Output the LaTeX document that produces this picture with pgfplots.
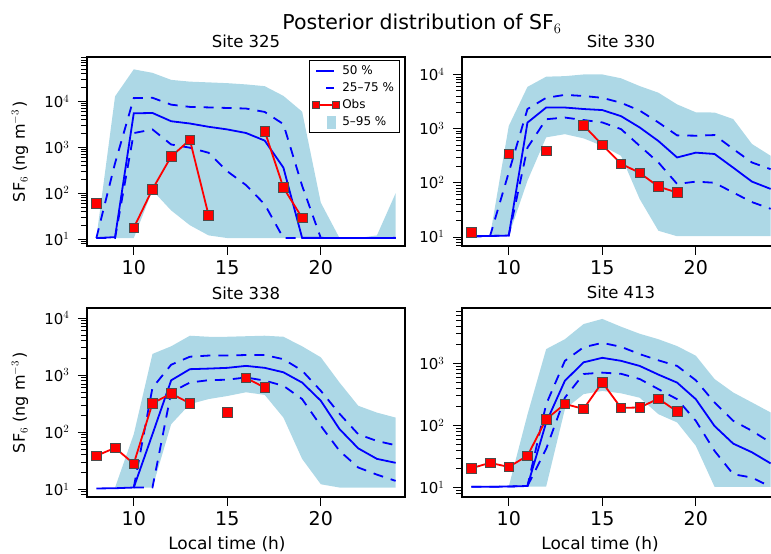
\documentclass[border=0pt]{standalone}
\usepackage{fontspec}
\setmainfont{DejaVu Sans}
\usepackage{pgfplots}
\pgfplotsset{compat=1.18}
\usepgfplotslibrary{groupplots}
\definecolor{lb}{HTML}{ADD8E6}
\definecolor{mblue}{rgb}{0,0,1}
\definecolor{mred}{rgb}{1,0,0}
\pgfplotsset{
 panel/.style={
  width=318pt, height=189pt, scale only axis,
  ymode=log, log basis y=10, xmin=7.5, xmax=24.5, xtick={10,15,20},
  /pgf/number format/assume math mode=true,
  tick align=outside, xtick pos=bottom, ytick pos=left,
  major tick length=9pt, minor tick length=6pt,
  every tick/.style={black, line width=0.8pt},
  axis line style={line width=1.6pt},
  xticklabel style={font=\fontsize{19}{19}\selectfont, yshift=-2pt},
  xticklabel={\pgfmathprintnumber{\tick}},
  yticklabel style={font=\fontsize{15}{15}\selectfont, xshift=-5pt},
  yticklabel={10$^{\pgfmathparse{int(round(\tick))}\pgfmathresult}$},
  title style={font=\fontsize{16.5}{16.5}\selectfont, at={(0.5,1)}, anchor=base, yshift=3pt},
  unbounded coords=jump,
 },
 ylab/.style={ylabel={SF$_6$\ (ng m$^{-3}$\,)}, ylabel style={font=\fontsize{16}{16}\selectfont, at={(axis description cs:-0.2107,0.5)}, anchor=center}},
 xlab/.style={xlabel={Local time (h)}, xlabel style={font=\fontsize{17}{17}\selectfont, at={(axis description cs:#1,0)}, anchor=base, yshift=-52pt}},
 band/.style={fill=lb, draw=none, forget plot},
 med/.style={mblue, line width=1.8pt, no markers, forget plot},
 quart/.style={mblue, line width=1.8pt, no markers, dash pattern=on 10pt off 8pt, forget plot},
 obs/.style={mred, line width=1.8pt, mark=square*, mark size=4.8pt, mark options={solid, fill=mred, draw=black!70, line width=0.7pt}, forget plot},
}
\begin{document}
\begin{tikzpicture}
\begin{groupplot}[group style={group size=2 by 2, horizontal sep=57pt, vertical sep=62pt}, panel]
% ---------------- Site 325
\nextgroupplot[title={Site 325}, ymin=7.05, ymax=93000, ylab,
  legend style={at={(1,1)}, anchor=north east, xshift=-5pt, yshift=-3pt, draw=black, line width=1.5pt,
    font=\fontsize{12}{12}\selectfont, row sep=0pt, nodes={inner sep=2.2pt, text height=9.5pt, text depth=3pt}},
  legend cell align=left]
\addplot[band] coordinates {(8,10.5)(9,12900)(10,50000)(11,42000)(12,29500)(13,27000)(14,26000)(15,25000)(16,23500)(17,21500)(18,13200)(19,6000)(20,62)(21,10.5)(22,10.5)(23,12)(24,100)
 (24,10.5)(23,10.5)(22,10.5)(21,10.5)(20,10.5)(19,10.5)(18,10.5)(17,10.5)(16,10.5)(15,10.5)(14,12)(13,20)(12,42)(11,115)(10,10.5)(9,10.5)(8,10.5)} -- cycle;
\addplot[quart] coordinates {(8,10.5)(9,450)(10,11800)(11,12000)(12,8500)(13,7600)(14,7400)(15,7200)(16,7000)(17,5900)(18,3200)(19,145)(20,10.5)(21,10.5)(22,10.5)(23,10.5)(24,10.5)};
\addplot[quart] coordinates {(8,10.5)(9,10.5)(10,2040)(11,2450)(12,1150)(13,980)(14,760)(15,300)(16,150)(17,57)(18,10.5)(19,10.5)(20,10.5)(21,10.5)(22,10.5)(23,10.5)(24,10.5)};
\addplot[med] coordinates {(8,10.5)(9,11)(10,5500)(11,5600)(12,3700)(13,3300)(14,2800)(15,2450)(16,2050)(17,1400)(18,360)(19,10.6)(20,10.6)(21,10.5)(22,10.5)(23,10.5)(24,10.6)};
\addplot[obs] coordinates {(8,60)(9,nan)(10,17.5)(11,122)(12,630)(13,1450)(14,33)(15,nan)(17,2250)(18,132)(19,29)};
\addlegendimage{legend image code/.code={\draw[mblue,line width=1.8pt] (0pt,0pt) -- (18pt,0pt);}}
\addlegendentry{50 \%}
\addlegendimage{legend image code/.code={\draw[mblue,line width=1.8pt] (10pt,0pt) -- (18pt,0pt);}}
\addlegendentry{25–75 \%}
\addlegendimage{legend image code/.code={\draw[mred,line width=1.8pt] (0pt,0pt) -- (20pt,0pt);
  \draw[fill=mred,draw=black!70,line width=0.6pt] (-3.5pt,-3.5pt) rectangle (3.5pt,3.5pt);
  \draw[fill=mred,draw=black!70,line width=0.6pt] (16.5pt,-3.5pt) rectangle (23.5pt,3.5pt);}}
\addlegendentry{Obs}
\addlegendimage{legend image code/.code={\fill[lb] (11pt,-6pt) rectangle (19pt,5pt);}}
\addlegendentry{5–95 \%}
% ---------------- Site 330
\nextgroupplot[title={Site 330}, ymin=6.8, ymax=21000]
\addplot[band] coordinates {(9,10.4)(10,1120)(11,5900)(12,9100)(13,9300)(14,10000)(15,10000)(16,8500)(17,6100)(18,4600)(19,2800)(20,2000)(21,1980)(22,1500)(23,520)(24,315)
 (24,10.3)(23,10.3)(22,10.3)(21,10.3)(20,10.3)(19,10.3)(18,13)(17,50)(16,315)(15,480)(14,660)(13,790)(12,690)(11,109)(10,10.6)(9,10.4)} -- cycle;
\addplot[quart] coordinates {(8,10.3)(9,10.4)(10,155)(11,2300)(12,3700)(13,4200)(14,4000)(15,3700)(16,3000)(17,2150)(18,1300)(19,750)(20,740)(21,760)(22,420)(23,237)(24,178)};
\addplot[quart] coordinates {(8,10.3)(9,10.4)(10,10.6)(11,445)(12,1490)(13,1600)(14,1440)(15,1300)(16,980)(17,480)(18,237)(19,95)(20,105)(21,100)(22,66)(23,44)(24,33)};
\addplot[med] coordinates {(8,10.3)(9,10.4)(10,10.6)(11,1290)(12,2450)(13,2450)(14,2300)(15,2200)(16,1700)(17,1050)(18,590)(19,293)(20,360)(21,340)(22,190)(23,105)(24,77)};
\addplot[obs] coordinates {(8,12.2)(9,nan)(10,340)(11,nan)(12,390)(13,nan)(14,1150)(15,500)(16,225)(17,152)(18,85)(19,66)};
% ---------------- Site 338
\nextgroupplot[title={Site 338}, ymin=7.3, ymax=15000, ylab, xlab=0.44]
\addplot[band] coordinates {(9,10.7)(10,92)(11,2350)(12,3200)(13,4900)(14,4700)(15,4700)(16,4800)(17,4900)(18,4700)(19,3200)(20,2050)(21,740)(22,290)(23,220)(24,180)
 (24,10.7)(23,10.7)(22,10.7)(21,10.7)(20,12.2)(19,34)(18,180)(17,450)(16,500)(15,430)(14,380)(13,310)(12,138)(11,10.7)(10,10.7)(9,10.7)} -- cycle;
\addplot[quart] coordinates {(10,10.7)(11,600)(12,1520)(13,2100)(14,2200)(15,2200)(16,2250)(17,2250)(18,1900)(19,1200)(20,530)(21,210)(22,92)(23,70)(24,59)};
\addplot[quart] coordinates {(10,10.7)(11,10.7)(12,500)(13,740)(14,815)(15,830)(16,910)(17,800)(18,650)(19,380)(20,129)(21,47)(22,24)(23,18)(24,14)};
\addplot[med] coordinates {(8,10.3)(9,10.4)(10,10.7)(11,92)(12,810)(13,1270)(14,1300)(15,1340)(16,1450)(17,1340)(18,1120)(19,740)(20,355)(21,113)(22,52)(23,34)(24,29)};
\addplot[obs] coordinates {(8,38.5)(9,53)(10,28)(11,320)(12,475)(13,320)(14,nan)(15,222)(15.5,nan)(16,890)(17,605)};
% ---------------- Site 413
\nextgroupplot[title={Site 413}, ymin=7.05, ymax=7800, xlab=0.434]
\addplot[band] coordinates {(10,10.4)(11,150)(12,1700)(13,2450)(14,4300)(15,5200)(16,3900)(17,3000)(18,2450)(19,1900)(20,1330)(21,560)(22,340)(23,235)(24,162)
 (24,10.3)(23,10.3)(22,10.3)(21,10.3)(20,47)(19,112)(18,152)(17,280)(16,330)(15,360)(14,320)(13,183)(12,10.4)(11,10.4)(10,10.4)} -- cycle;
\addplot[quart] coordinates {(8,10.3)(9,10.3)(10,10.4)(11,10.6)(12,220)(13,1100)(14,1820)(15,2140)(16,1850)(17,1410)(18,1120)(19,910)(20,535)(21,235)(22,119)(23,82)(24,53)};
\addplot[quart] coordinates {(11,10.6)(12,42)(13,280)(14,675)(15,710)(16,680)(17,560)(18,385)(19,265)(20,119)(21,39)(22,16.4)(23,14.5)(24,10.3)};
\addplot[med] coordinates {(8,10.3)(9,10.3)(10,10.4)(11,10.6)(12,112)(13,525)(14,1040)(15,1230)(16,1100)(17,910)(18,660)(19,490)(20,265)(21,98)(22,51)(23,37)(24,24.5)};
\addplot[obs] coordinates {(8,20.5)(9,25)(10,21.5)(11,32.5)(12,126)(13,222)(14,185)(15,495)(16,192)(17,195)(18,270)(19,168)};
\end{groupplot}
\node[font=\fontsize{20.5}{20.5}\selectfont, anchor=base] at ([xshift=335pt,yshift=27pt]group c1r1.north west) {Posterior distribution of SF$_6$};
\pgfresetboundingbox
\path[use as bounding box] ([xshift=-87pt,yshift=57pt]group c1r1.north west) rectangle ([xshift=684pt,yshift=-497pt]group c1r1.north west);
\end{tikzpicture}
\end{document}
